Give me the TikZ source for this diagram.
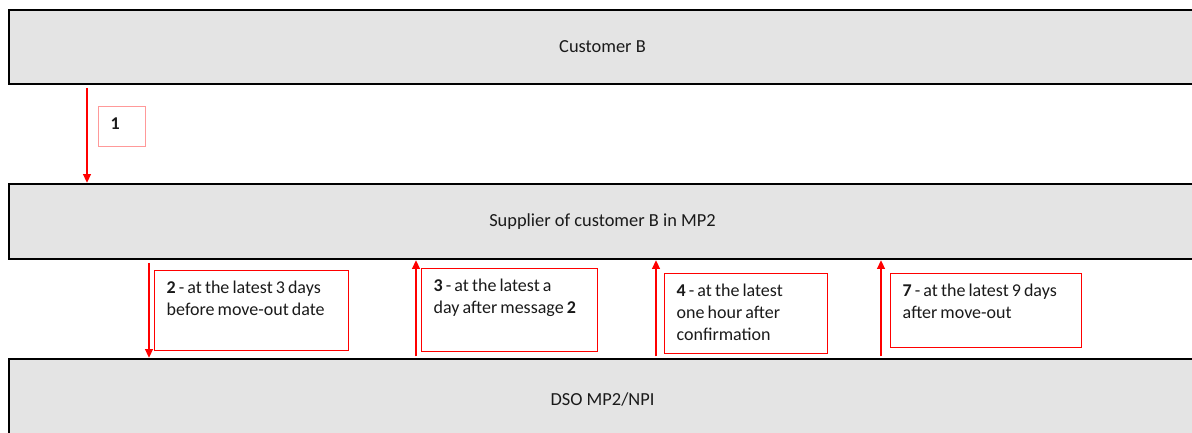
\documentclass[tikz,border=0pt]{standalone}
\usepackage{fontspec}
\setmainfont{Carlito}
\usetikzlibrary{arrows.meta}
\definecolor{lanegray}{HTML}{E4E4E4}
\definecolor{txt}{HTML}{1A1A1A}
\definecolor{pinkred}{HTML}{FF9999}
\newcommand\tsp{\spaceskip=0.17em\relax}
\begin{document}
\begin{tikzpicture}[x=0.75pt,y=-0.75pt,
  lane/.style={draw=black,line width=1.9pt,fill=lanegray,minimum width=890.25pt,inner sep=0pt,
    text=txt,font=\fontsize{13.8}{16.3}\selectfont},
  tbox/.style={draw=red,line width=1.1pt,anchor=north west,align=left,inner xsep=9pt,inner ysep=0pt,
    text height=17.25pt,text=txt,font=\fontsize{13.5}{16.3}\selectfont},
  msg/.style={draw=red,line width=0.8pt,-{Triangle[length=6.5pt,width=6pt]}}
]
\useasboundingbox (0,0) rectangle (1192,432);
\clip (0,0) rectangle (1192,432);

% lanes
\node[lane,minimum height=55.5pt] (lane1) at (602.5,47) {Customer B};
\node[lane,minimum height=56.25pt] (lane2) at (602.5,221.5) {Supplier of customer B in MP2};
\node[lane,minimum height=60pt] (lane3) at (602.5,399) {DSO MP2/NPI};

% label boxes
\node[tbox,draw=pinkred,line width=0.8pt,text width=17.25pt,text depth=12.75pt] (b1) at (98,106) {\textbf{1}};
\node[tbox,text width=127.5pt,text depth=42.75pt] (b2) at (154,270)
  {\tsp\mbox{\textbf{2} - at the latest 3 days}\\\mbox{before move-out date}};
\node[tbox,text width=114pt,text depth=45pt] (b3) at (421,268)
  {\tsp\mbox{\textbf{3} - at the latest a}\\\mbox{day after message \textbf{2}}};
\node[tbox,text width=104.25pt,text depth=42.75pt] (b4) at (664,273)
  {\tsp\mbox{\textbf{4} - at the latest}\\\mbox{one hour after}\\\mbox{confirmation}};
\node[tbox,text width=125.25pt,text depth=38.25pt] (b7) at (890,273)
  {\tsp\mbox{\textbf{7} - at the latest 9 days}\\\mbox{after move-out}};

% arrow positions
\coordinate (x1) at (87,0);
\coordinate (x2) at (149,0);
\coordinate (x3) at (416,0);
\coordinate (x4) at (656,0);
\coordinate (x7) at (881,0);

% messages
\draw[msg] ([yshift=-2pt]lane1.south -| x1) -- (lane2.north -| x1);
\draw[msg] ([yshift=-2pt]lane2.south -| x2) -- (lane3.north -| x2);
\draw[msg] ([yshift=1pt]lane3.north -| x3) -- (lane2.south -| x3);
\draw[msg] ([yshift=1pt]lane3.north -| x4) -- (lane2.south -| x4);
\draw[msg] ([yshift=1pt]lane3.north -| x7) -- (lane2.south -| x7);
\end{tikzpicture}
\end{document}
